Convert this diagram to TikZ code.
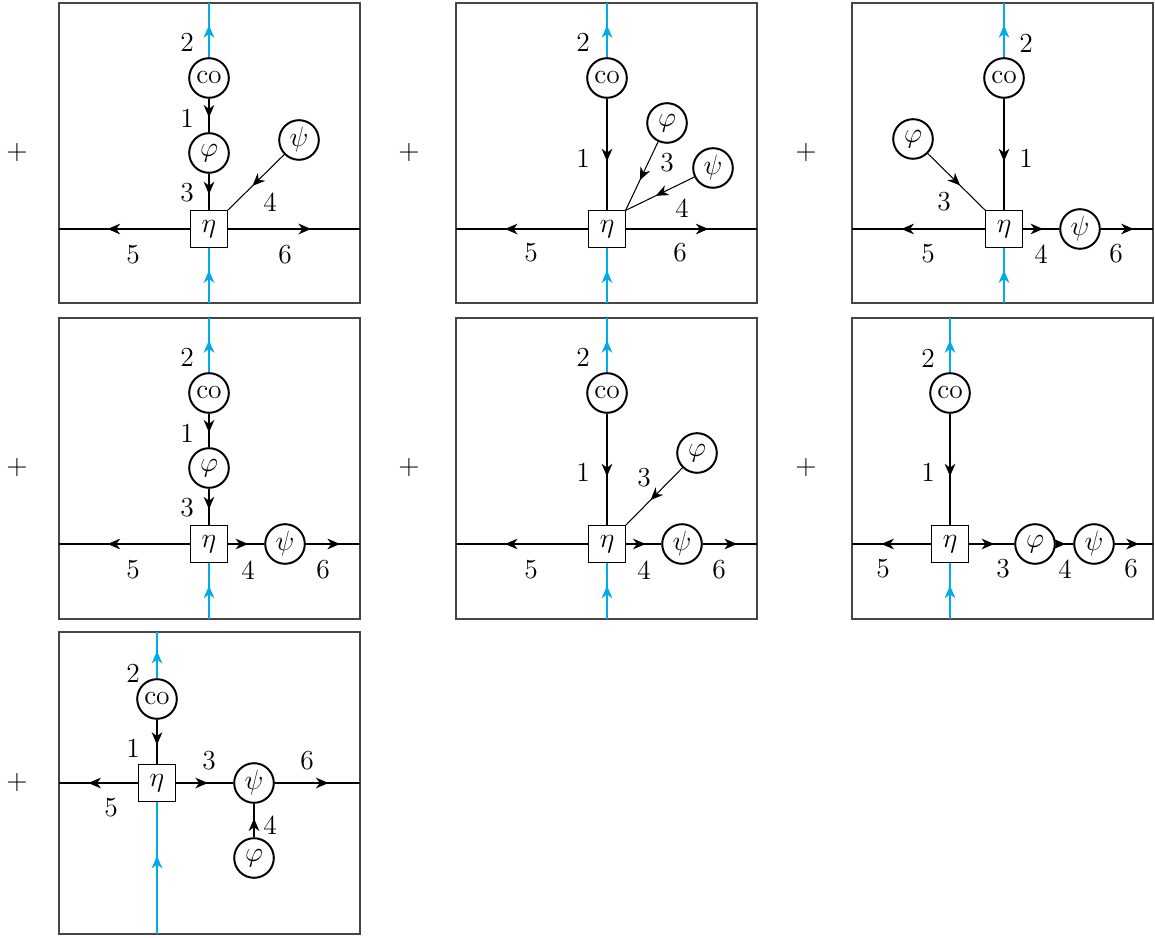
\documentclass[tikz,border=0pt]{standalone}
\usetikzlibrary{arrows.meta,decorations.markings}
\definecolor{fblue}{RGB}{0,170,235}
\definecolor{framec}{RGB}{70,70,70}
\tikzset{
  frame/.style={draw=framec, line width=0.45pt},
  vtx/.style={circle, draw, line width=0.85pt, minimum size=17pt, inner sep=0pt, fill=white},
  etab/.style={rectangle, draw, line width=0.45pt, minimum size=15.5pt, inner sep=0pt, fill=white},
  prop/.style={line width=0.45pt, postaction={decorate},
    decoration={markings, mark=at position #1 with {\arrow{Stealth[length=5.4pt,width=4.6pt,inset=1.7pt]}}}},
  prop/.default=0.56,
  bprop/.style={prop=#1, draw=fblue},
  bprop/.default=0.59,
  lbl/.style={inner sep=0pt},
}
\begin{document}
\begin{tikzpicture}[x=0.4292pt, y=-0.4292pt, font=\fontsize{11.8}{14}\selectfont]
\useasboundingbox (0,0) rectangle (1155,938);
% frames
\draw[frame] (59,3) rectangle (360,303);
\draw[frame] (456,3) rectangle (757,303);
\draw[frame] (852,3) rectangle (1153,303);
\draw[frame] (59,318) rectangle (360,619);
\draw[frame] (456,318) rectangle (757,619);
\draw[frame] (852,318) rectangle (1153,619);
\draw[frame] (59,632) rectangle (360,934);
% plus signs
\node[lbl] (pl1) at (17,153) {$+$};
\node[lbl] (pl2) at (409,153) {$+$};
\node[lbl] (pl3) at (806,153) {$+$};
\node[lbl] (pl4) at (17,468) {$+$};
\node[lbl] (pl5) at (409,468) {$+$};
\node[lbl] (pl6) at (806,468) {$+$};
\node[lbl] (pl7) at (17,783) {$+$};

% ---------- panel 1 ----------
\coordinate (t1) at (209,3); \coordinate (b1) at (209,303);
\coordinate (l1) at (59,229); \coordinate (r1) at (360,229);
\node[etab] (e1) at (209,229) {$\eta$};
\node[vtx] (c1) at (209,78) {co};
\node[vtx] (f1) at (209,153) {$\varphi$};
\node[vtx] (s1) at (299,140) {$\psi$};
\draw[bprop] (b1) -- (e1);
\draw[bprop] (c1) -- (t1);
\draw[prop] (c1) -- (f1);
\draw[prop] (f1) -- (e1);
\draw[prop] (s1) -- (e1.north east);
\draw[prop=0.63] (e1) -- (l1);
\draw[prop=0.63] (e1) -- (r1);
\node[lbl] (n1b) at (187,42) {2};
\node[lbl] (n1a) at (187,118) {1};
\node[lbl] (n1c) at (187,193) {3};
\node[lbl] (n1d) at (270,202) {4};
\node[lbl] (n1e) at (133,255) {5};
\node[lbl] (n1f) at (285,255) {6};

% ---------- panel 2 ----------
\coordinate (t2) at (607,3); \coordinate (b2) at (607,303);
\coordinate (l2) at (456,229); \coordinate (r2) at (757,229);
\node[etab] (e2) at (607,229) {$\eta$};
\node[vtx] (c2) at (607,78) {co};
\node[vtx] (f2) at (667,123) {$\varphi$};
\node[vtx] (s2) at (713,168) {$\psi$};
\draw[bprop] (b2) -- (e2);
\draw[bprop] (c2) -- (t2);
\draw[prop] (c2) -- (e2);
\draw[prop] (f2) -- (e2.north east);
\draw[prop] (s2) -- (e2.north east);
\draw[prop=0.63] (e2) -- (l2);
\draw[prop=0.63] (e2) -- (r2);
\node[lbl] (n2b) at (583,42) {2};
\node[lbl] (n2a) at (583,158) {1};
\node[lbl] (n2c) at (667,163) {3};
\node[lbl] (n2d) at (682,208) {4};
\node[lbl] (n2e) at (531,253) {5};
\node[lbl] (n2f) at (680,253) {6};

% ---------- panel 3 ----------
\coordinate (t3) at (1004,3); \coordinate (b3) at (1004,303);
\coordinate (l3) at (852,229); \coordinate (r3) at (1153,229);
\node[etab] (e3) at (1004,229) {$\eta$};
\node[vtx] (c3) at (1004,78) {co};
\node[vtx] (f3) at (913,139) {$\varphi$};
\node[vtx] (s3) at (1080,229) {$\psi$};
\draw[bprop] (b3) -- (e3);
\draw[bprop] (c3) -- (t3);
\draw[prop] (c3) -- (e3);
\draw[prop] (f3) -- (e3.north west);
\draw[prop] (e3) -- (s3);
\draw[prop=0.63] (s3) -- (r3);
\draw[prop=0.63] (e3) -- (l3);
\node[lbl] (n3b) at (1026,43) {2};
\node[lbl] (n3a) at (1026,158) {1};
\node[lbl] (n3c) at (944,202) {3};
\node[lbl] (n3d) at (1041,254) {4};
\node[lbl] (n3e) at (928,254) {5};
\node[lbl] (n3f) at (1116,254) {6};

% ---------- panel 4 ----------
\coordinate (t4) at (209,318); \coordinate (b4) at (209,619);
\coordinate (l4) at (59,544); \coordinate (r4) at (360,544);
\node[etab] (e4) at (209,544) {$\eta$};
\node[vtx] (c4) at (209,393) {co};
\node[vtx] (f4) at (209,468) {$\varphi$};
\node[vtx] (s4) at (285,544) {$\psi$};
\draw[bprop] (b4) -- (e4);
\draw[bprop] (c4) -- (t4);
\draw[prop] (c4) -- (f4);
\draw[prop] (f4) -- (e4);
\draw[prop] (e4) -- (s4);
\draw[prop=0.63] (s4) -- (r4);
\draw[prop=0.63] (e4) -- (l4);
\node[lbl] (n4b) at (187,357) {2};
\node[lbl] (n4a) at (187,433) {1};
\node[lbl] (n4c) at (187,508) {3};
\node[lbl] (n4d) at (248,570) {4};
\node[lbl] (n4e) at (133,570) {5};
\node[lbl] (n4f) at (323,570) {6};

% ---------- panel 5 ----------
\coordinate (t5) at (607,318); \coordinate (b5) at (607,619);
\coordinate (l5) at (456,544); \coordinate (r5) at (757,544);
\node[etab] (e5) at (607,544) {$\eta$};
\node[vtx] (c5) at (607,393) {co};
\node[vtx] (f5) at (697,453) {$\varphi$};
\node[vtx] (s5) at (682,544) {$\psi$};
\draw[bprop] (b5) -- (e5);
\draw[bprop] (c5) -- (t5);
\draw[prop] (c5) -- (e5);
\draw[prop] (f5) -- (e5.north east);
\draw[prop] (e5) -- (s5);
\draw[prop=0.63] (s5) -- (r5);
\draw[prop=0.63] (e5) -- (l5);
\node[lbl] (n5b) at (583,357) {2};
\node[lbl] (n5a) at (583,472) {1};
\node[lbl] (n5c) at (644,478) {3};
\node[lbl] (n5d) at (644,570) {4};
\node[lbl] (n5e) at (531,570) {5};
\node[lbl] (n5f) at (719,570) {6};

% ---------- panel 6 ----------
\coordinate (t6) at (950,318); \coordinate (b6) at (950,619);
\coordinate (l6) at (852,544); \coordinate (r6) at (1153,544);
\node[etab] (e6) at (950,544) {$\eta$};
\node[vtx] (c6) at (950,393) {co};
\node[vtx] (f6) at (1035,544) {$\varphi$};
\node[vtx] (s6) at (1094,544) {$\psi$};
\draw[bprop] (b6) -- (e6);
\draw[bprop] (c6) -- (t6);
\draw[prop] (c6) -- (e6);
\draw[prop] (e6) -- (f6);
\draw[prop] (f6) -- (s6);
\draw[prop=0.63] (s6) -- (r6);
\draw[prop=0.63] (e6) -- (l6);
\node[lbl] (n6b) at (928,358) {2};
\node[lbl] (n6a) at (928,472) {1};
\node[lbl] (n6c) at (1003,569) {3};
\node[lbl] (n6d) at (1065,569) {4};
\node[lbl] (n6e) at (883,569) {5};
\node[lbl] (n6f) at (1131,569) {6};

% ---------- panel 7 ----------
\coordinate (t7) at (157,632); \coordinate (b7) at (157,934);
\coordinate (l7) at (59,783); \coordinate (r7) at (360,783);
\node[etab] (e7) at (157,783) {$\eta$};
\node[vtx] (c7) at (157,699) {co};
\node[vtx] (s7) at (254,783) {$\psi$};
\node[vtx] (f7) at (254,858) {$\varphi$};
\draw[bprop] (b7) -- (e7);
\draw[bprop] (c7) -- (t7);
\draw[prop] (c7) -- (e7);
\draw[prop] (e7) -- (s7);
\draw[prop=0.63] (s7) -- (r7);
\draw[prop=0.63] (e7) -- (l7);
\draw[prop] (f7) -- (s7);
\node[lbl] (n7b) at (133,673) {2};
\node[lbl] (n7a) at (133,748) {1};
\node[lbl] (n7c) at (209,761) {3};
\node[lbl] (n7f) at (307,761) {6};
\node[lbl] (n7e) at (111,808) {5};
\node[lbl] (n7d) at (270,825) {4};
\end{tikzpicture}
\end{document}
